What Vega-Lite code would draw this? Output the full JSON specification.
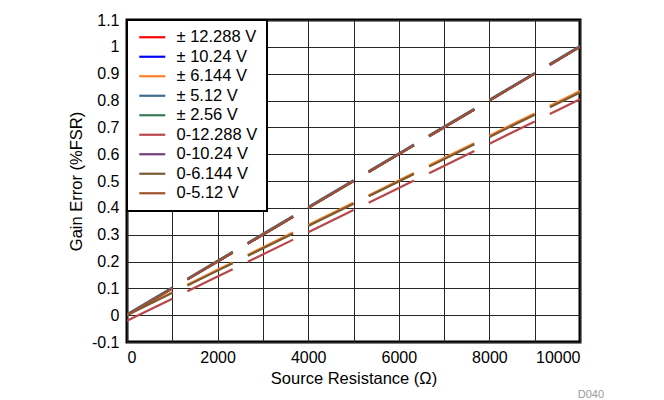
{
  "$schema": "https://vega.github.io/schema/vega-lite/v6.json",
  "autosize": "none",
  "width": 453,
  "height": 322,
  "padding": {"left": 127, "top": 20, "right": 84, "bottom": 58},
  "background": "white",
  "title": {
    "text": "D040",
    "orient": "bottom",
    "anchor": "end",
    "fontSize": 11,
    "font": "Liberation Sans",
    "fontWeight": "normal",
    "color": "#9a9a9a",
    "dx": 24,
    "offset": 2
  },
  "config": {
    "font": "Liberation Sans",
    "view": {"stroke": "black", "strokeWidth": 3},
    "axis": {
      "labelFontSize": 16,
      "labelColor": "black",
      "titleFontSize": 16.5,
      "titleFontWeight": "normal",
      "titleColor": "black",
      "grid": true,
      "gridColor": "#262626",
      "gridWidth": 1,
      "gridOpacity": 1,
      "domain": false,
      "ticks": false
    }
  },
  "data": {
    "values": [
      {"Range": "± 12.288 V", "Resistance": 0, "GainError": 0.0},
      {"Range": "± 12.288 V", "Resistance": 2000, "GainError": 0.2},
      {"Range": "± 12.288 V", "Resistance": 4000, "GainError": 0.4},
      {"Range": "± 12.288 V", "Resistance": 6000, "GainError": 0.6},
      {"Range": "± 12.288 V", "Resistance": 8000, "GainError": 0.8},
      {"Range": "± 12.288 V", "Resistance": 10000, "GainError": 1.0},
      {"Range": "± 10.24 V", "Resistance": 0, "GainError": 0.0},
      {"Range": "± 10.24 V", "Resistance": 2000, "GainError": 0.2},
      {"Range": "± 10.24 V", "Resistance": 4000, "GainError": 0.4},
      {"Range": "± 10.24 V", "Resistance": 6000, "GainError": 0.6},
      {"Range": "± 10.24 V", "Resistance": 8000, "GainError": 0.8},
      {"Range": "± 10.24 V", "Resistance": 10000, "GainError": 1.0},
      {"Range": "± 6.144 V", "Resistance": 0, "GainError": 0.002},
      {"Range": "± 6.144 V", "Resistance": 2000, "GainError": 0.169},
      {"Range": "± 6.144 V", "Resistance": 4000, "GainError": 0.336},
      {"Range": "± 6.144 V", "Resistance": 6000, "GainError": 0.502},
      {"Range": "± 6.144 V", "Resistance": 8000, "GainError": 0.669},
      {"Range": "± 6.144 V", "Resistance": 10000, "GainError": 0.835},
      {"Range": "± 5.12 V", "Resistance": 0, "GainError": 0.003},
      {"Range": "± 5.12 V", "Resistance": 2000, "GainError": 0.203},
      {"Range": "± 5.12 V", "Resistance": 4000, "GainError": 0.403},
      {"Range": "± 5.12 V", "Resistance": 6000, "GainError": 0.603},
      {"Range": "± 5.12 V", "Resistance": 8000, "GainError": 0.803},
      {"Range": "± 5.12 V", "Resistance": 10000, "GainError": 1.003},
      {"Range": "± 2.56 V", "Resistance": 0, "GainError": 0.0},
      {"Range": "± 2.56 V", "Resistance": 2000, "GainError": 0.2},
      {"Range": "± 2.56 V", "Resistance": 4000, "GainError": 0.4},
      {"Range": "± 2.56 V", "Resistance": 6000, "GainError": 0.6},
      {"Range": "± 2.56 V", "Resistance": 8000, "GainError": 0.8},
      {"Range": "± 2.56 V", "Resistance": 10000, "GainError": 1.0},
      {"Range": "0-12.288 V", "Resistance": 0, "GainError": -0.021},
      {"Range": "0-12.288 V", "Resistance": 2000, "GainError": 0.144},
      {"Range": "0-12.288 V", "Resistance": 4000, "GainError": 0.309},
      {"Range": "0-12.288 V", "Resistance": 6000, "GainError": 0.474},
      {"Range": "0-12.288 V", "Resistance": 8000, "GainError": 0.639},
      {"Range": "0-12.288 V", "Resistance": 10000, "GainError": 0.805},
      {"Range": "0-10.24 V", "Resistance": 0, "GainError": 0.0},
      {"Range": "0-10.24 V", "Resistance": 2000, "GainError": 0.2},
      {"Range": "0-10.24 V", "Resistance": 4000, "GainError": 0.4},
      {"Range": "0-10.24 V", "Resistance": 6000, "GainError": 0.6},
      {"Range": "0-10.24 V", "Resistance": 8000, "GainError": 0.8},
      {"Range": "0-10.24 V", "Resistance": 10000, "GainError": 1.0},
      {"Range": "0-6.144 V", "Resistance": 0, "GainError": 0.0},
      {"Range": "0-6.144 V", "Resistance": 2000, "GainError": 0.166},
      {"Range": "0-6.144 V", "Resistance": 4000, "GainError": 0.332},
      {"Range": "0-6.144 V", "Resistance": 6000, "GainError": 0.498},
      {"Range": "0-6.144 V", "Resistance": 8000, "GainError": 0.664},
      {"Range": "0-6.144 V", "Resistance": 10000, "GainError": 0.83},
      {"Range": "0-5.12 V", "Resistance": 0, "GainError": 0.0},
      {"Range": "0-5.12 V", "Resistance": 2000, "GainError": 0.2},
      {"Range": "0-5.12 V", "Resistance": 4000, "GainError": 0.4},
      {"Range": "0-5.12 V", "Resistance": 6000, "GainError": 0.6},
      {"Range": "0-5.12 V", "Resistance": 8000, "GainError": 0.8},
      {"Range": "0-5.12 V", "Resistance": 10000, "GainError": 1.0}
    ]
  },
  "mark": {"type": "line", "strokeWidth": 2.2, "clip": true},
  "encoding": {
    "x": {
      "field": "Resistance",
      "type": "quantitative",
      "scale": {"domain": [0, 10000], "nice": false},
      "axis": {
        "title": "Source Resistance (Ω)",
        "values": [0, 1000, 2000, 3000, 4000, 5000, 6000, 7000, 8000, 9000, 10000],
        "labelExpr": "datum.value % 2000 == 0 ? format(datum.value, 'd') : ''",
        "labelPadding": 7,
        "titlePadding": 5
      }
    },
    "y": {
      "field": "GainError",
      "type": "quantitative",
      "scale": {"domain": [-0.1, 1.1], "nice": false, "zero": false},
      "axis": {
        "title": "Gain Error (%FSR)",
        "values": [-0.1, 0, 0.1, 0.2, 0.3, 0.4, 0.5, 0.6, 0.7, 0.8, 0.9, 1, 1.1],
        "labelExpr": "replace(format(datum.value, '.1~f'), '−', '-')",
        "labelPadding": 8,
        "titlePadding": 7
      }
    },
    "color": {
      "field": "Range",
      "type": "nominal",
      "sort": null,
      "scale": {
        "domain": ["± 12.288 V", "± 10.24 V", "± 6.144 V", "± 5.12 V", "± 2.56 V", "0-12.288 V", "0-10.24 V", "0-6.144 V", "0-5.12 V"],
        "range": ["#ff0000", "#0000ff", "#ff7f27", "#3f6b8c", "#3a7d55", "#b9474a", "#763c7e", "#7a5a30", "#a0522d"]
      },
      "legend": {
        "title": null,
        "orient": "none",
        "legendX": 0,
        "legendY": 0,
        "symbolType": "M-0.83,0H3.5",
        "symbolSize": 144,
        "symbolStrokeWidth": 2.2,
        "labelFontSize": 16.5,
        "labelColor": "black",
        "labelOffset": 24,
        "padding": 9,
        "rowPadding": 2.5,
        "strokeColor": "black",
        "fillColor": "white",
        "encode": {"legend": {"update": {"strokeWidth": {"value": 2}}}}
      }
    },
    "strokeDash": {
      "field": "Range",
      "type": "nominal",
      "sort": null,
      "scale": {
        "domain": ["± 12.288 V", "± 10.24 V", "± 6.144 V", "± 5.12 V", "± 2.56 V", "0-12.288 V", "0-10.24 V", "0-6.144 V", "0-5.12 V"],
        "range": [[52.65, 17.55], [52.65, 17.55], [50.5, 16.83], [52.65, 17.55], [52.65, 17.55], [50.43, 16.81], [52.65, 17.55], [50.5, 16.83], [52.65, 17.55]]
      },
      "legend": null
    }
  }
}
